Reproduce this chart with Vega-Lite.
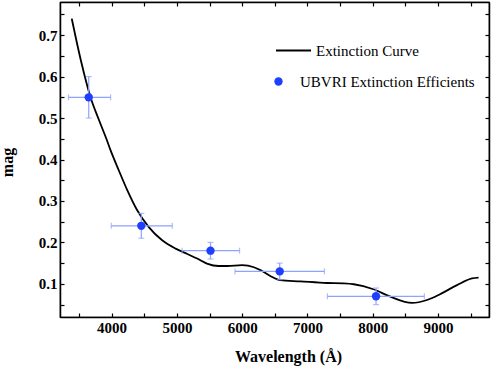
{
  "$schema": "https://vega.github.io/schema/vega-lite/v6.json",
  "width": 429,
  "height": 315,
  "autosize": {"type": "none"},
  "padding": {"left": 60, "top": 2, "right": 2, "bottom": 52},
  "background": "white",
  "config": {
    "view": {"stroke": "black", "strokeWidth": 1.2},
    "font": "Liberation Serif",
    "axis": {
      "grid": false,
      "domainColor": "black",
      "domainWidth": 1.5,
      "tickColor": "black",
      "tickWidth": 1.2,
      "tickSize": -4,
      "labelFont": "Liberation Serif",
      "labelFontSize": 15,
      "labelFontWeight": "bold",
      "labelColor": "black",
      "labelFlush": false,
      "labelOverlap": false,
      "titleFont": "Liberation Serif",
      "titleFontSize": 16,
      "titleFontWeight": "bold",
      "titleColor": "black"
    },
    "legend": {
      "labelFont": "Liberation Serif",
      "labelFontSize": 15,
      "labelColor": "black",
      "labelLimit": 0,
      "padding": 0,
      "title": null
    }
  },
  "datasets": {
    "curve": [
      {"wl": 3390, "mag": 0.740},
      {"wl": 3530, "mag": 0.639},
      {"wl": 3680, "mag": 0.549},
      {"wl": 3810, "mag": 0.494},
      {"wl": 3920, "mag": 0.450},
      {"wl": 3985, "mag": 0.422},
      {"wl": 4110, "mag": 0.374},
      {"wl": 4240, "mag": 0.326},
      {"wl": 4390, "mag": 0.278},
      {"wl": 4570, "mag": 0.237},
      {"wl": 4775, "mag": 0.205},
      {"wl": 4980, "mag": 0.185},
      {"wl": 5160, "mag": 0.172},
      {"wl": 5310, "mag": 0.161},
      {"wl": 5460, "mag": 0.149},
      {"wl": 5640, "mag": 0.143},
      {"wl": 5770, "mag": 0.143},
      {"wl": 6000, "mag": 0.145},
      {"wl": 6180, "mag": 0.140},
      {"wl": 6280, "mag": 0.133},
      {"wl": 6430, "mag": 0.119},
      {"wl": 6580, "mag": 0.109},
      {"wl": 6890, "mag": 0.106},
      {"wl": 7300, "mag": 0.102},
      {"wl": 7550, "mag": 0.101},
      {"wl": 7710, "mag": 0.099},
      {"wl": 8010, "mag": 0.087},
      {"wl": 8270, "mag": 0.069},
      {"wl": 8600, "mag": 0.054},
      {"wl": 8830, "mag": 0.061},
      {"wl": 9030, "mag": 0.075},
      {"wl": 9290, "mag": 0.097},
      {"wl": 9520, "mag": 0.113},
      {"wl": 9620, "mag": 0.115}
    ],
    "bands": [
      {"band": "U", "wl": 3650, "mag": 0.55, "xlo": 3340, "xhi": 3985, "ylo": 0.50, "yhi": 0.60},
      {"band": "B", "wl": 4455, "mag": 0.24, "xlo": 3995, "xhi": 4930, "ylo": 0.21, "yhi": 0.27},
      {"band": "V", "wl": 5515, "mag": 0.18, "xlo": 5080, "xhi": 5960, "ylo": 0.16, "yhi": 0.20},
      {"band": "R", "wl": 6575, "mag": 0.13, "xlo": 5890, "xhi": 7260, "ylo": 0.11, "yhi": 0.15},
      {"band": "I", "wl": 8050, "mag": 0.07, "xlo": 7305, "xhi": 8790, "ylo": 0.05, "yhi": 0.09}
    ]
  },
  "resolve": {"axis": {"x": "independent", "y": "independent"}},
  "layer": [
    {
      "data": {"name": "curve"},
      "mark": {"type": "point", "opacity": 0},
      "encoding": {
        "x": {"field": "wl", "type": "quantitative", "scale": {"domain": [3210, 9780], "nice": false, "zero": false},
          "axis": {"orient": "top", "labels": false, "title": null, "values": [3500, 4000, 4500, 5000, 5500, 6000, 6500, 7000, 7500, 8000, 8500, 9000, 9500]}},
        "y": {"field": "mag", "type": "quantitative", "scale": {"domain": [0.02, 0.78], "nice": false, "zero": false},
          "axis": {"orient": "right", "labels": false, "title": null, "values": [0.05, 0.1, 0.15, 0.2, 0.25, 0.3, 0.35, 0.4, 0.45, 0.5, 0.55, 0.6, 0.65, 0.7, 0.75]}}
      }
    },
    {
      "data": {"name": "curve"},
      "mark": {"type": "line", "strokeWidth": 1.8, "interpolate": "monotone"},
      "encoding": {
        "x": {"field": "wl", "type": "quantitative", "scale": {"domain": [3210, 9780], "nice": false, "zero": false},
          "axis": {"orient": "bottom", "values": [3500, 4000, 4500, 5000, 5500, 6000, 6500, 7000, 7500, 8000, 8500, 9000, 9500],
            "format": "d", "labelExpr": "datum.value % 1000 === 0 ? datum.label : ''", "labelPadding": 7,
            "title": "Wavelength (Å)", "titleX": 228, "titleY": 39, "titleBaseline": "middle"}},
        "y": {"field": "mag", "type": "quantitative", "scale": {"domain": [0.02, 0.78], "nice": false, "zero": false},
          "axis": {"orient": "left", "values": [0.05, 0.1, 0.15, 0.2, 0.25, 0.3, 0.35, 0.4, 0.45, 0.5, 0.55, 0.6, 0.65, 0.7, 0.75],
            "labelExpr": "abs(datum.value * 10 - round(datum.value * 10)) < 0.01 ? format(datum.value, '.1f') : ''", "labelPadding": 7,
            "title": "mag", "titleX": -53, "titleY": 160, "titleBaseline": "middle", "titleAlign": "center"}},
        "stroke": {"datum": "Extinction Curve", "type": "nominal", "scale": {"domain": ["Extinction Curve"], "range": ["black"]},
          "legend": {"orient": "none", "legendX": 215, "legendY": 30, "symbolType": "stroke", "symbolSize": 1225, "symbolStrokeWidth": 1.8, "symbolStrokeColor": "black", "labelOffset": 4}}
      }
    },
    {
      "data": {"name": "bands"},
      "mark": {"type": "rule", "color": "#8ea2ff", "strokeWidth": 1.2},
      "encoding": {
        "x": {"field": "xlo", "type": "quantitative", "axis": null},
        "x2": {"field": "xhi"},
        "y": {"field": "mag", "type": "quantitative", "axis": null}
      }
    },
    {
      "data": {"name": "bands"},
      "mark": {"type": "rule", "color": "#8ea2ff", "strokeWidth": 1.2},
      "encoding": {
        "x": {"field": "wl", "type": "quantitative", "axis": null},
        "y": {"field": "ylo", "type": "quantitative", "axis": null},
        "y2": {"field": "yhi"}
      }
    },
    {
      "data": {"name": "bands"},
      "mark": {"type": "tick", "orient": "vertical", "color": "#8ea2ff", "size": 6, "thickness": 1.2},
      "encoding": {
        "x": {"field": "xlo", "type": "quantitative", "axis": null},
        "y": {"field": "mag", "type": "quantitative", "axis": null}
      }
    },
    {
      "data": {"name": "bands"},
      "mark": {"type": "tick", "orient": "vertical", "color": "#8ea2ff", "size": 6, "thickness": 1.2},
      "encoding": {
        "x": {"field": "xhi", "type": "quantitative", "axis": null},
        "y": {"field": "mag", "type": "quantitative", "axis": null}
      }
    },
    {
      "data": {"name": "bands"},
      "mark": {"type": "tick", "orient": "horizontal", "color": "#8ea2ff", "size": 6, "thickness": 1.2},
      "encoding": {
        "x": {"field": "wl", "type": "quantitative", "axis": null},
        "y": {"field": "ylo", "type": "quantitative", "axis": null}
      }
    },
    {
      "data": {"name": "bands"},
      "mark": {"type": "tick", "orient": "horizontal", "color": "#8ea2ff", "size": 6, "thickness": 1.2},
      "encoding": {
        "x": {"field": "wl", "type": "quantitative", "axis": null},
        "y": {"field": "yhi", "type": "quantitative", "axis": null}
      }
    },
    {
      "data": {"name": "bands"},
      "mark": {"type": "point", "filled": true, "size": 70, "opacity": 1},
      "encoding": {
        "x": {"field": "wl", "type": "quantitative", "axis": null},
        "y": {"field": "mag", "type": "quantitative", "axis": null},
        "color": {"datum": "UBVRI Extinction Efficients", "type": "nominal", "scale": {"domain": ["UBVRI Extinction Efficients"], "range": ["#1f3fff"]},
          "legend": {"orient": "none", "legendX": 211, "legendY": 72, "symbolType": "circle", "symbolSize": 70, "labelOffset": 14}}
      }
    }
  ]
}
